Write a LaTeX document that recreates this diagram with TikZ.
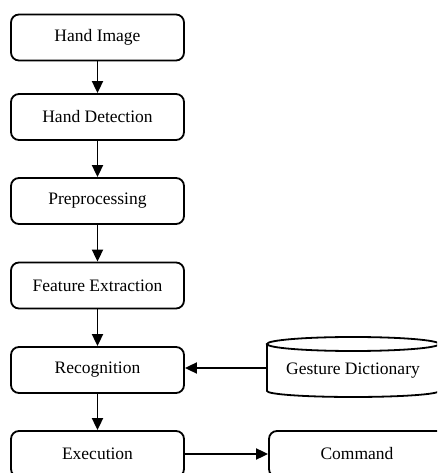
\documentclass[tikz,border=0pt]{standalone}
\usepackage{fontspec}
\setmainfont{Liberation Serif}
\usetikzlibrary{arrows.meta}
\begin{document}
\begin{tikzpicture}[x=1pt,y=1pt,
  box/.style={draw, line width=1.8pt, rounded corners=8pt, minimum width=173pt, minimum height=46pt, inner sep=0pt, font=\fontsize{17.5}{20}\selectfont},
  lbl/.style={inner sep=0pt, font=\fontsize{17.5}{20}\selectfont},
  arr/.style={line width=1.8pt, -{Triangle[length=12pt,width=11pt]}},
  cyl/.style={line width=1.8pt}]
\useasboundingbox (0,0) rectangle (437,473);
\clip (0,0) rectangle (437,473);
\node[box] (a) at (97.5,435.5) {Hand Image};
\node[box] (b) at (97.5,356) {Hand Detection};
\node[box] (c) at (97.5,272) {Preprocessing};
\node[box] (d) at (97.5,187.5) {Feature Extraction};
\node[box] (e) at (97.5,103) {Recognition};
\node[box] (f) at (97.5,19) {Execution};
\node[box, minimum width=176pt] (g) at (357,19) {Command};
% cylinder
\draw[cyl] (267,129) -- (267,82) arc[start angle=180, end angle=360, x radius=86, y radius=6] -- (439,129);
\draw[cyl] (353,129) ellipse [x radius=86, y radius=7];
\node[lbl] (h) at (353,102) {Gesture Dictionary};
\coordinate (hl) at (267,105);
% connectors
\draw[arr] (a) -- (b);
\draw[arr] (b) -- (c);
\draw[arr] (c) -- (d);
\draw[arr] (d) -- (e);
\draw[arr] (e) -- (f);
\draw[arr] (hl) -- (hl -| e.east);
\draw[arr] (f) -- (g);
\end{tikzpicture}
\end{document}
